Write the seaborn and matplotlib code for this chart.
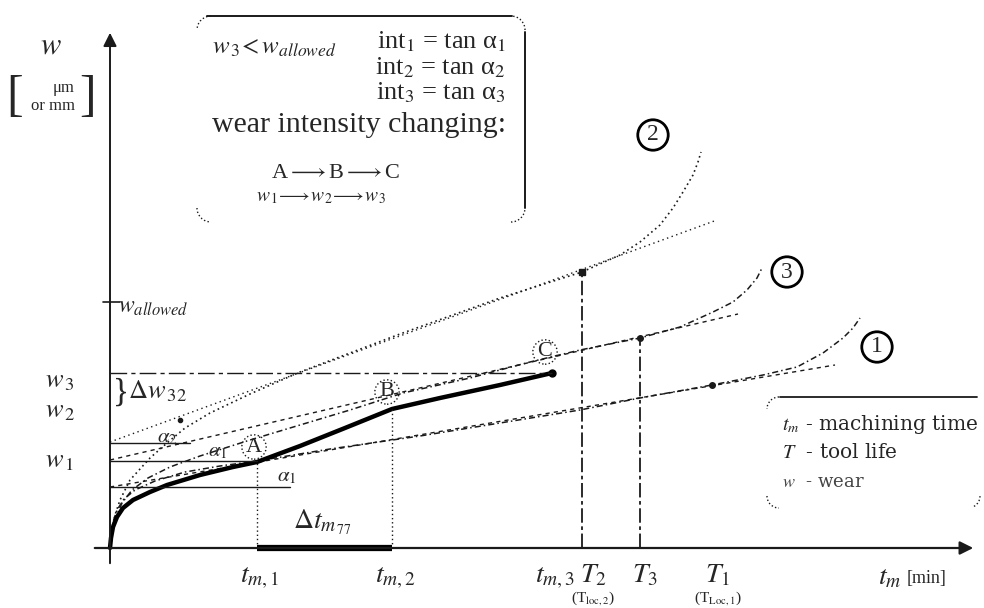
import matplotlib
matplotlib.use("Agg")
import matplotlib.pyplot as plt
import seaborn as sns
from matplotlib.patches import Arc

# wear curves (t = machining time, w = wear), arbitrary units
path_t = [0, 1, 3, 7, 13, 23, 40, 57, 90, 123, 147, 190, 235, 282, 330, 390, 442]
path_w = [0, 10, 21, 31, 40, 48, 56, 63, 73, 81, 86, 102, 120, 139, 150, 163, 175]

curve1_t = [0, 1, 3, 7, 14, 25, 45, 75, 110, 147, 220, 310, 390, 470, 530, 602, 653, 687, 713, 733, 743, 750]
curve1_w = [0, 13, 26, 38, 49, 58, 67, 76, 82, 87, 99, 112, 125, 138, 150, 163, 173, 181, 195, 210, 220, 230]

curve2_t = [0, 2, 5, 10, 20, 40, 57, 75, 100, 140, 190, 290, 390, 472, 510, 530, 550, 563, 573, 583, 588, 591]
curve2_w = [0, 18, 33, 48, 68, 90, 105, 120, 135, 154, 176, 214, 250, 276, 293, 306, 323, 340, 356, 373, 386, 396]

curve3_t = [0, 2, 6, 12, 22, 38, 60, 90, 140, 190, 240, 293, 360, 420, 470, 530, 570, 603, 623, 637, 647, 652]
curve3_w = [0, 16, 31, 45, 58, 70, 81, 92, 108, 123, 138, 155, 170, 186, 198, 210, 221, 236, 246, 258, 270, 280]

# tangent lines of the linear wear zone
tan1_t, tan1_w = [0, 725], [61, 183]
tan2_t, tan2_w = [0, 607], [106, 328]
tan3_t, tan3_w = [0, 628], [88, 234]

# characteristic values
w_levels = [61, 87, 105]          # horizontal reference lines
w_level_ends = [180, 147, 80]
w3_level = 175
w_allowed = 246
tm_points = [147, 282, 442]       # t_m,1  t_m,2  t_m,3
tm_labels = [r"$t_{m,1}$", r"$t_{m,2}$", r"$t_{m,3}$"]
T_points = [472, 530, 602]        # T2, T3, T1
T_wear = [276, 210, 163]
T_labels = [r"$T_2$", r"$T_3$", r"$T_1$"]
T_sub = [r"(T$_{\mathrm{loc,2}}$)", "", r"(T$_{\mathrm{Loc,1}}$)"]
A_pt, B_pt, C_pt = (147, 86), (282, 139), (442, 175)

sns.set_style("white")
plt.rcParams["font.family"] = ["Liberation Serif", "DejaVu Serif"]
plt.rcParams["mathtext.fontset"] = "stix"

fig = plt.figure(figsize=(9.84, 6.08), dpi=100)
ax = fig.add_axes([0, 0, 1, 1])
ax.set_xlim(-110, 874)
ax.set_ylim(-60, 548)
ax.axis("off")

ink = "#1a1a1a"

# axes with arrows
ax.annotate("", xy=(866, 0), xytext=(-18, 0),
            arrowprops=dict(arrowstyle="-|>", color=ink, lw=1.6, mutation_scale=20))
ax.annotate("", xy=(0, 518), xytext=(0, -18),
            arrowprops=dict(arrowstyle="-|>", color=ink, lw=1.4, mutation_scale=20))

# wear curves and tangents
sns.lineplot(x=curve2_t, y=curve2_w, sort=False, estimator=None, ax=ax,
             color=ink, lw=1.2, linestyle=(0, (1, 2)))
sns.lineplot(x=tan2_t, y=tan2_w, sort=False, estimator=None, ax=ax,
             color=ink, lw=1.0, linestyle=(0, (1, 2.5)))
sns.lineplot(x=curve3_t, y=curve3_w, sort=False, estimator=None, ax=ax,
             color=ink, lw=1.1, linestyle=(0, (4, 2, 1, 2)))
sns.lineplot(x=tan3_t, y=tan3_w, sort=False, estimator=None, ax=ax,
             color=ink, lw=1.0, linestyle=(0, (3, 3)))
sns.lineplot(x=curve1_t, y=curve1_w, sort=False, estimator=None, ax=ax,
             color=ink, lw=1.1, linestyle=(0, (4, 2, 1, 2)))
sns.lineplot(x=tan1_t, y=tan1_w, sort=False, estimator=None, ax=ax,
             color=ink, lw=1.0, linestyle=(0, (3, 3)))

# actual wear path A -> B -> C
sns.lineplot(x=path_t, y=path_w, sort=False, estimator=None, ax=ax,
             color="black", lw=3.2)
ax.plot([C_pt[0]], [C_pt[1]], "o", color="black", ms=5)

# reference lines
for wl, we in zip(w_levels, w_level_ends):
    ax.plot([0, we], [wl, wl], color=ink, lw=1.0)
ax.plot([0, C_pt[0]], [w3_level, w3_level], color=ink, lw=1.0,
        linestyle=(0, (12, 3, 3, 3)))
ax.plot([-7, 10], [w_allowed, w_allowed], color=ink, lw=1.2)

# vertical markers
ax.plot([A_pt[0], A_pt[0]], [0, A_pt[1]], color=ink, lw=1.0, linestyle=(0, (1, 2)))
ax.plot([B_pt[0], B_pt[0]], [0, B_pt[1]], color=ink, lw=1.0, linestyle=(0, (1, 2)))
ax.plot([T_points[0]] * 2, [0, T_wear[0]], color=ink, lw=1.3, linestyle=(0, (8, 2, 2, 2)))
ax.plot([T_points[1]] * 2, [0, T_wear[1]], color=ink, lw=1.3, linestyle=(0, (8, 2, 2, 2)))
ax.plot([T_points[0]], [T_wear[0]], "s", color=ink, ms=5)
ax.plot([T_points[1]], [T_wear[1]], "o", color=ink, ms=4)
ax.plot([T_points[2]], [T_wear[2]], "o", color=ink, ms=4)
ax.plot([70], [128], "o", color=ink, ms=3)
ax.plot([A_pt[0], B_pt[0]], [0, 0], color="black", lw=4.5, solid_capstyle="butt")

# axis labels
ax.text(-59, 502, r"$w$", fontsize=22, ha="center", va="center")
ax.text(-95, 450, "[", fontsize=36, ha="center", va="center")
ax.text(-22, 450, "]", fontsize=36, ha="center", va="center")
ax.text(-46, 460, "μm", fontsize=12, ha="center", va="center")
ax.text(-57, 442, "or mm", fontsize=12, ha="center", va="center")
ax.text(8, 240, r"$w_{allowed}$", fontsize=17, ha="left", va="center")
ax.text(-50, 166, r"$w_{\,3}$", fontsize=19, ha="center", va="center")
ax.text(-50, 136, r"$w_{\,2}$", fontsize=19, ha="center", va="center")
ax.text(-50, 86, r"$w_{\,1}$", fontsize=19, ha="center", va="center")
ax.text(3, 156, "}", fontsize=24, ha="left", va="center")
ax.text(18, 157, r"$\Delta w_{\,32}$", fontsize=19, ha="left", va="center")

# angle labels
ax.text(57, 110, r"$\alpha_2$", fontsize=15, ha="center", va="center")
ax.text(108, 96, r"$\alpha_1$", fontsize=15, ha="center", va="center")
ax.text(177, 71, r"$\alpha_1$", fontsize=15, ha="center", va="center")

# point labels in dotted circles
for lbl, (tx, wy) in zip(["A", "B", "C"], [(144, 101), (277, 156), (435, 196)]):
    ax.text(tx, wy, lbl, fontsize=16, ha="center", va="center",
            bbox=dict(boxstyle="circle,pad=0.12", fc="none", ec=ink, lw=1.0, ls=":"))

# curve numbers
for lbl, (tx, wy) in zip(["2", "3", "1"], [(543, 413), (677, 276), (767, 201)]):
    ax.text(tx, wy, lbl, fontsize=17, ha="center", va="center",
            bbox=dict(boxstyle="circle,pad=0.2", fc="white", ec="black", lw=2.0))

# time axis labels
ax.text(212, 26, r"$\Delta t_{m_{\,77}}$", fontsize=20, ha="center", va="center")
for tp, lbl in zip(tm_points, tm_labels):
    ax.text(tp + 3, -30, lbl, fontsize=20, ha="center", va="center")
for tp, lbl, sub, dx in zip(T_points, T_labels, T_sub, [11, 5, 6]):
    ax.text(tp + dx, -28, lbl, fontsize=20, ha="center", va="center")
    if sub:
        ax.text(tp + dx, -50, sub, fontsize=11, ha="center", va="center")
ax.text(780, -30, r"$t_m$", fontsize=20, ha="center", va="center")
ax.text(797, -30, "[min]", fontsize=13, ha="left", va="center")

# info box at the top
box_l, box_r, box_t, box_b, rad = 87, 415, 532, 326, 14
ax.plot([box_l + 10, box_r - 13], [box_t, box_t], color=ink, lw=1.4)
ax.plot([box_r, box_r], [box_t - 16, box_b + 14], color=ink, lw=1.4)
for cx, cy, a1, a2 in [(box_l + rad, box_t - rad, 90, 180), (box_r - rad, box_t - rad, 0, 90),
                       (box_l + rad, box_b + rad, 180, 270), (box_r - rad, box_b + rad, 270, 360)]:
    ax.add_patch(Arc((cx, cy), 2 * rad, 2 * rad, theta1=a1, theta2=a2,
                     color=ink, lw=1.0, ls=":"))
ax.text(102, 500, r"$w_{\,3}\!<w_{allowed}$", fontsize=18, ha="left", va="center")
for k, wy in enumerate([506, 480, 455]):
    ax.text(396, wy, "int$_{%d}$ = tan α$_{%d}$" % (k + 1, k + 1), fontsize=19,
            ha="right", va="center")
ax.text(396, 423, "wear intensity changing:", fontsize=21.5, ha="right", va="center")
ax.text(226, 374, r"A$\longrightarrow$B$\longrightarrow$C", fontsize=16,
        ha="center", va="center")
ax.text(211, 350, r"$w_{\,1}\!\longrightarrow\! w_{\,2}\!\longrightarrow\! w_{\,3}$",
        fontsize=14, ha="center", va="center")

# legend box at the bottom right
lg_l, lg_r, lg_t, lg_b, lr = 657, 870, 151, 40, 12
ax.plot([lg_l + 13, lg_r - 3], [lg_t, lg_t], color=ink, lw=1.3)
for cx, cy, a1, a2 in [(lg_l + lr, lg_t - lr, 90, 180), (lg_l + lr, lg_b + lr, 180, 270),
                       (lg_r - lr, lg_b + lr, 300, 360)]:
    ax.add_patch(Arc((cx, cy), 2 * lr, 2 * lr, theta1=a1, theta2=a2,
                     color=ink, lw=1.0, ls=":"))
leg_font = ["DejaVu Serif"]
ax.text(672, 123, r"$t_m$ - machining time", fontsize=14.5, ha="left", va="center", family=leg_font)
ax.text(672, 95, r"$T$  - tool life", fontsize=14.5, ha="left", va="center", family=leg_font)
ax.text(672, 66, r"$w$  - wear", fontsize=13, ha="left", va="center", family=leg_font,
        color="#444444")

fig.savefig("out.png", dpi=100, facecolor="white")
